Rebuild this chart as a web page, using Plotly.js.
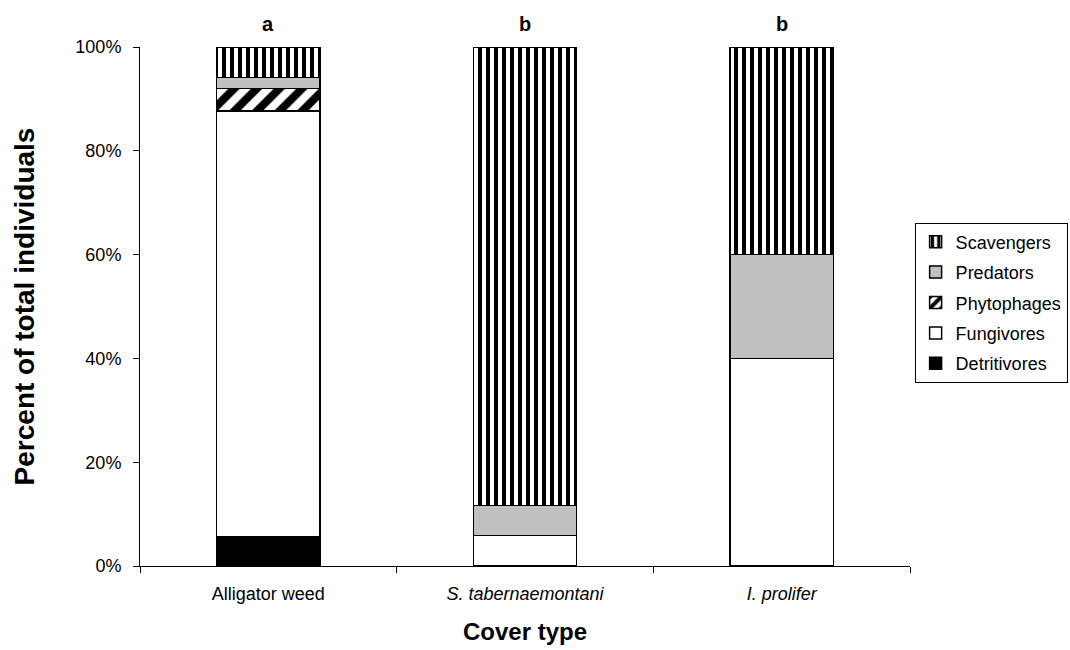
<!DOCTYPE html>
<html>
<head>
<meta charset="utf-8">
<script src="https://cdn.plot.ly/plotly-3.0.1.min.js"></script>
<style>html,body{margin:0;padding:0;background:#fff;}#chart{width:1070px;height:650px;}</style>
</head>
<body>
<div id="chart"></div>
<script>
var categories = ["Alligator weed", "S. tabernaemontani", "I. prolifer"];
var tickLabels = ["Alligator weed", "<i>S. tabernaemontani</i>", "<i>I. prolifer</i>"];
var groupLetters = ["a", "b", "b"];
var detritivores = [5.7, 0, 0];
var fungivores = [82.0, 5.9, 40.0];
var phytophages = [4.3, 0, 0];
var predators = [2.1, 5.8, 20.0];
var scavengers = [5.9, 88.3, 40.0];

var fontFam = "Liberation Sans, Arial, sans-serif";

function mk(name, vals, color, rank, pattern) {
  var t = {
    type: "bar", name: name, x: categories, y: vals, legendgroup: name, legendrank: rank,
    marker: {color: color, line: {color: "#000", width: 1.5}},
    hoverinfo: "name+y"
  };
  if (pattern) t.marker.pattern = pattern;
  return t;
}

var traces = [
  mk("Detritivores", detritivores, "#000000", 5),
  mk("Fungivores", fungivores, "#ffffff", 4),
  mk("Phytophages", phytophages, "#ffffff", 3, {shape: "/", fgcolor: "#000", fgopacity: 1, bgcolor: "#fff", size: 16, solidity: 0.5, fillmode: "replace"}),
  mk("Predators", predators, "#c0c0c0", 2),
  mk("Scavengers", scavengers, "#ffffff", 1, {shape: "|", fgcolor: "#000", fgopacity: 1, bgcolor: "#fff", size: 8, solidity: 0.5, fillmode: "replace"})
];

var annotations = categories.map(function (c, i) {
  return {x: c, y: 100, xref: "x", yref: "y", text: "<b>" + groupLetters[i] + "</b>",
    showarrow: false, yanchor: "bottom", yshift: 10,
    font: {family: fontFam, size: 20, color: "#000"}};
});

var layout = {
  width: 1070, height: 650,
  margin: {l: 140, r: 160, t: 47, b: 84, autoexpand: false},
  paper_bgcolor: "#fff", plot_bgcolor: "#fff",
  barmode: "stack", bargap: 0.597,
  font: {family: fontFam, size: 18, color: "#000"},
  xaxis: {
    type: "category", tickvals: categories, ticktext: tickLabels,
    showline: true, linecolor: "#000", linewidth: 1, mirror: false,
    ticks: "outside", tickson: "boundaries", ticklen: 6, tickcolor: "#000",
    ticklabelstandoff: 11,
    showgrid: false, zeroline: false,
    tickfont: {family: fontFam, size: 18},
    title: {text: "<b>Cover type</b>", font: {family: fontFam, size: 24}, standoff: 20}
  },
  yaxis: {
    range: [0, 100], tickvals: [0, 20, 40, 60, 80, 100],
    ticktext: ["0%", "20%", "40%", "60%", "80%", "100%"],
    showline: true, linecolor: "#000", linewidth: 1,
    ticks: "outside", ticklen: 6, tickcolor: "#000",
    ticklabelstandoff: 8,
    showgrid: false, zeroline: false,
    tickfont: {family: fontFam, size: 18},
    title: {text: "<b>Percent of total individuals</b>", font: {family: fontFam, size: 28}, standoff: 32}
  },
  legend: {
    x: 1.006, y: 0.5077, xanchor: "left", yanchor: "middle",
    traceorder: "grouped", tracegroupgap: 4, bordercolor: "#000", borderwidth: 1,
    bgcolor: "#fff", font: {family: fontFam, size: 18}, itemwidth: 30
  },
  annotations: annotations,
  showlegend: true
};

Plotly.newPlot("chart", traces, layout, {displayModeBar: false, staticPlot: true});
</script>
</body>
</html>
